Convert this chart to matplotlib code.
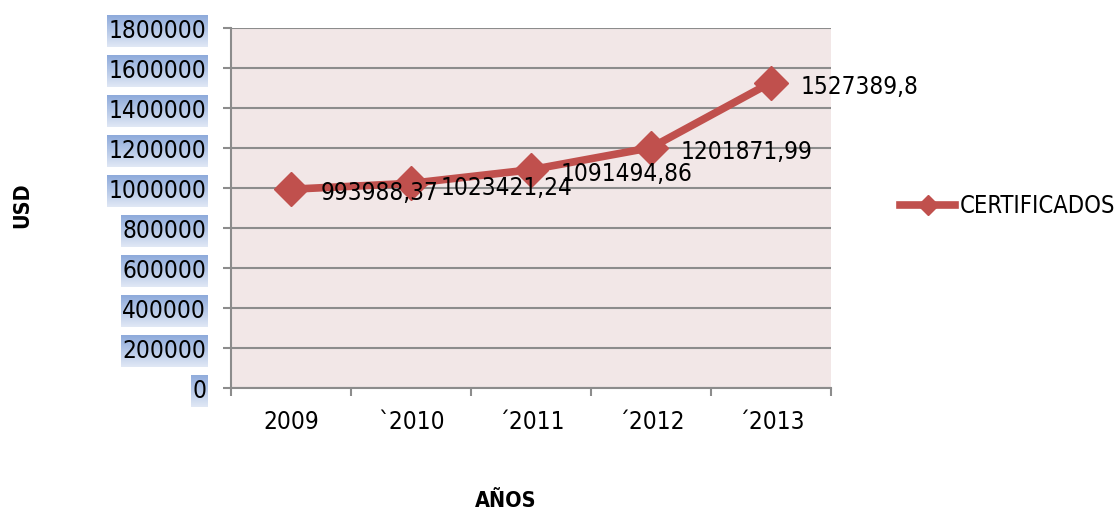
import numpy as np
import matplotlib.pyplot as plt

# datos
anios = ['2009', '`2010', '´2011', '´2012', '´2013']
certificados = [993988.37, 1023421.24, 1091494.86, 1201871.99, 1527389.8]
etiquetas = ['993988,37', '1023421,24', '1091494,86', '1201871,99', '1527389,8']
y_ticks = [0, 200000, 400000, 600000, 800000, 1000000, 1200000, 1400000, 1600000, 1800000]

# DejaVu Sans condensada, lo mas parecido a Arial Narrow
plt.rcParams['font.family'] = ['DejaVu Sans']
plt.rcParams['font.stretch'] = 'condensed'
fs = 17.5

rojo = '#c0504d'
gris = '#8c8c8c'

fig = plt.figure(figsize=(11.16, 5.14), dpi=100)
ax = fig.add_axes([0.207, 0.245, 0.5376, 0.7005])
ax.set_facecolor('#f2e7e7')

x = np.arange(len(anios))
ax.plot(x, certificados, '-D', color=rojo, lw=5.5, ms=17, label='CERTIFICADOS', zorder=3)

for xi, yi, txt in zip(x, certificados, etiquetas):
    ax.annotate(txt, (xi, yi), xytext=(21, -3), textcoords='offset points',
                ha='left', va='center', fontsize=fs, zorder=4)

ax.set_xlim(-0.5, len(anios) - 0.5)
ax.set_ylim(0, 1800000)
ax.set_yticks(y_ticks)
ax.set_yticklabels([str(v) for v in y_ticks], fontsize=fs)
ax.set_xticks(x)
ax.set_xticklabels(anios, fontsize=fs)
ax.set_xticks(np.arange(-0.5, len(anios)), minor=True)
ax.tick_params(axis='x', which='major', length=0, pad=16)
ax.tick_params(axis='x', which='minor', length=6, color=gris, width=1.5)
ax.tick_params(axis='y', length=6, color=gris, width=1.5, pad=12)
ax.grid(axis='y', color=gris, lw=1.5, zorder=1)
ax.set_axisbelow(True)
for s in ['top', 'right']:
    ax.spines[s].set_visible(False)
for s in ['left', 'bottom']:
    ax.spines[s].set_color(gris)
    ax.spines[s].set_linewidth(1.5)

fig.text(0.453, 0.025, 'AÑOS', ha='center', va='center', fontsize=fs - 2, fontweight='bold')
fig.text(0.02, 0.6, 'USD', ha='center', va='center', rotation=90, fontsize=fs - 2, fontweight='bold')

ax.legend(loc='center left', bbox_to_anchor=(1.1, 0.505), frameon=False, fontsize=fs - 0.5,
          handlelength=2.3, handletextpad=0.2, borderaxespad=0, markerscale=0.6)

# fondo azul degradado de las etiquetas del eje y
fig.canvas.draw()
r = fig.canvas.get_renderer()
grad = np.linspace(0, 1, 50).reshape(-1, 1)
cmap = plt.matplotlib.colors.LinearSegmentedColormap.from_list('az', ['#8eaadb', '#e0e8f5'])
W, H = fig.bbox.width, fig.bbox.height
for lab in ax.get_yticklabels():
    bb = lab.get_window_extent(r)
    cx = fig.add_axes([(bb.x0 - 1) / W, (bb.y0 - 4) / H, (bb.width + 3) / W, (bb.height + 8) / H],
                      zorder=-1)
    cx.imshow(grad, aspect='auto', cmap=cmap, vmin=0, vmax=1)
    cx.axis('off')

fig.savefig('out.png', dpi=100)
